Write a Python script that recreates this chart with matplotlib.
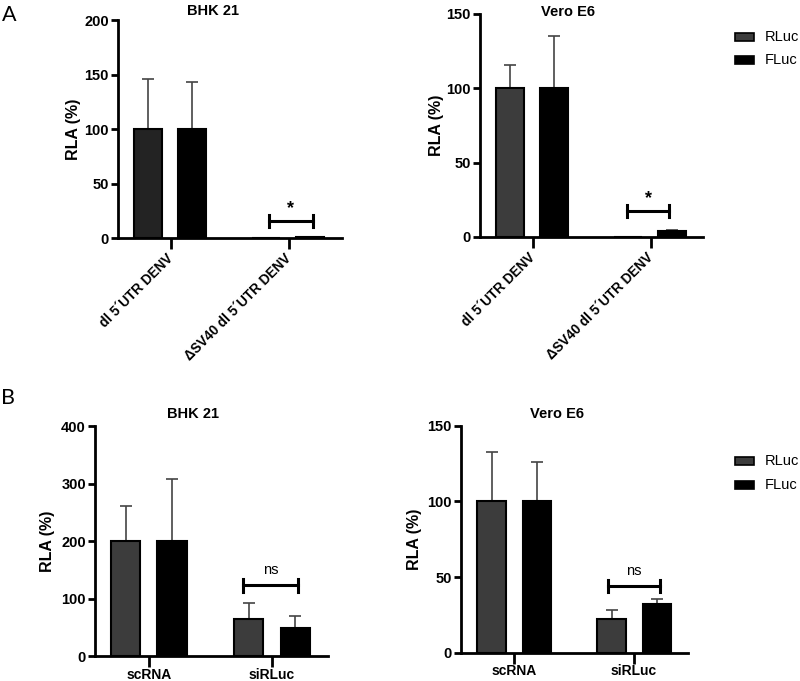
import matplotlib
matplotlib.use("Agg")
import matplotlib.pyplot as plt
import numpy as np
from matplotlib.patches import Rectangle

plt.rcParams['font.family'] = ['Liberation Sans', 'DejaVu Sans']

series = ["RLuc", "FLuc"]

# Panel A
cats_A = ["dl 5\u00b4UTR DENV", "\u0394SV40 dl 5\u00b4UTR DENV"]
bhk_A_rluc = [100, 0.2]
bhk_A_rluc_err = [46, 0]
bhk_A_fluc = [100, 1.0]
bhk_A_fluc_err = [43.5, 0.3]
vero_A_rluc = [100, 0.3]
vero_A_rluc_err = [16, 0]
vero_A_fluc = [100, 4.0]
vero_A_fluc_err = [35, 1.0]

# Panel B
cats_B = ["scRNA", "siRLuc"]
bhk_B_rluc = [200, 65]
bhk_B_rluc_err = [61, 28]
bhk_B_fluc = [200, 48]
bhk_B_fluc_err = [108, 22]
vero_B_rluc = [100, 22]
vero_B_rluc_err = [33, 6.5]
vero_B_fluc = [100, 32]
vero_B_fluc_err = [26, 3.7]

fig = plt.figure(figsize=(8, 6.81), dpi=100)

def panel(rect, title, title_xy, cats, rl, rle, fl, fle, ymax, ystep, xlim, offs, width,
          rcolor, rot, bracket, sig, ylab_x):
    ax = fig.add_axes(rect)
    x = np.arange(len(cats))
    ekw = dict(ecolor='#444444', elinewidth=1.2, capsize=4, capthick=1.2, zorder=1)
    ax.bar(x + offs[0], rl, width, color=rcolor, edgecolor='black', linewidth=1.5,
           yerr=[np.zeros(len(rle)), rle], error_kw=ekw, zorder=2)
    ax.bar(x + offs[1], fl, width, color='black', edgecolor='black', linewidth=1.5,
           yerr=[np.zeros(len(fle)), fle], error_kw=ekw, zorder=2)
    ax.set_xlim(*xlim)
    ax.set_ylim(0, ymax)
    ax.set_yticks(np.arange(0, ymax + 1, ystep))
    ax.set_xticks(x)
    for s in ['top', 'right']:
        ax.spines[s].set_visible(False)
    for s in ['left', 'bottom']:
        ax.spines[s].set_linewidth(2)
    ax.tick_params(axis='y', direction='out', length=5, width=2, labelsize=10.5, pad=1.5)
    ax.tick_params(axis='x', direction='out', length=8, width=2, labelsize=9.5, pad=5)
    for t in ax.get_yticklabels():
        t.set_fontweight('bold')
    if rot:
        ax.set_xticklabels(cats, rotation=45, ha='right', va='center',
                           rotation_mode='anchor', fontweight='bold', fontsize=9.8)
    else:
        ax.set_xticklabels(cats, fontweight='bold', fontsize=10)
        ax.tick_params(axis='x', pad=0.5)
    fig.text(title_xy[0] / 800, 1 - title_xy[1] / 681, title, fontsize=10.5,
             fontweight='bold', ha='center', va='center')
    ax.set_ylabel("RLA (%)", fontsize=11.5, fontweight='bold')
    ax.yaxis.set_label_coords(ylab_x, 0.5)
    bx0, bx1, by, bh = bracket
    ax.plot([bx0, bx1], [by, by], color='black', lw=2.2, clip_on=False, zorder=3)
    ax.plot([bx0, bx0], [by - bh, by + bh], color='black', lw=2.2, clip_on=False, zorder=3)
    ax.plot([bx1, bx1], [by - bh, by + bh], color='black', lw=2.2, clip_on=False, zorder=3)
    if sig == '*':
        ax.text((bx0 + bx1) / 2, by + bh * 0.6, sig, ha='center', va='bottom',
                fontsize=13, fontweight='bold')
    else:
        ax.text((bx0 + bx1) / 2, by + bh * 1.3, sig, ha='center', va='bottom',
                fontsize=10.5)
    return ax

ax1 = panel([0.1475, 0.6505, 0.28, 0.3201], "BHK 21", (213, 11), cats_A,
            bhk_A_rluc, bhk_A_rluc_err, bhk_A_fluc, bhk_A_fluc_err,
            200, 50, (-0.449, 1.449), (-0.195, 0.18), 0.24, '#232323', True,
            (0.83, 1.20, 15.6, 5.5), '*', -0.165)
ax2 = panel([0.6, 0.652, 0.27875, 0.3275], "Vero E6", (568, 12), cats_A,
            vero_A_rluc, vero_A_rluc_err, vero_A_fluc, vero_A_fluc_err,
            150, 50, (-0.449, 1.44), (-0.195, 0.18), 0.24, '#3c3c3c', True,
            (0.80, 1.15, 17.5, 4.0), '*', -0.161)
ax3 = panel([0.11875, 0.0367, 0.29125, 0.3377], "BHK 21", (193, 414), cats_B,
            bhk_B_rluc, bhk_B_rluc_err, bhk_B_fluc, bhk_B_fluc_err,
            400, 100, (-0.439, 1.455), (-0.19, 0.187), 0.236, '#3c3c3c', False,
            (0.764, 1.21, 123, 11), 'ns', -0.172)
ax4 = panel([0.57625, 0.0416, 0.28375, 0.333], "Vero E6", (557, 414), cats_B,
            vero_B_rluc, vero_B_rluc_err, vero_B_fluc, vero_B_fluc_err,
            150, 50, (-0.442, 1.45), (-0.1875, 0.19), 0.236, '#3c3c3c', False,
            (0.783, 1.217, 44, 4), 'ns', -0.172)

# legends (figure pixel coordinates converted to fractions)
def legend(ypx_list, colors):
    for ypx, c, lab in zip(ypx_list, colors, series):
        yf = 1 - ypx / 681
        fig.add_artist(Rectangle((735 / 800, yf - 4 / 681), 19 / 800, 8 / 681,
                                 facecolor=c, edgecolor='black', lw=1.2,
                                 transform=fig.transFigure))
        fig.text(765 / 800, yf, lab, fontsize=10.5, va='center', ha='left')

legend([37, 60], ['#3c3c3c', 'black'])
legend([461, 485], ['#3c3c3c', 'black'])

fig.text(2 / 800, 1 - 15 / 681, "A", fontsize=15.5, va='center', ha='left',
         family=['Lato', 'DejaVu Sans'])
fig.text(1 / 800, 1 - 398 / 681, "B", fontsize=15.5, va='center', ha='left',
         family=['Lato', 'DejaVu Sans'])

fig.savefig("out.png", dpi=100)
